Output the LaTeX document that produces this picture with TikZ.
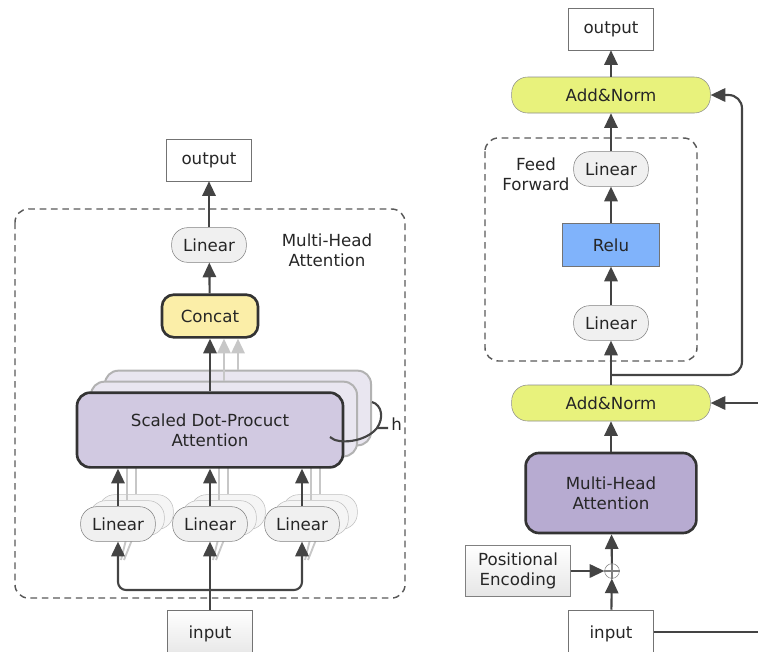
\documentclass[tikz,border=0pt]{standalone}
\usepackage{fontspec}
\setmainfont{DejaVu Sans}
\usetikzlibrary{arrows.meta}
\definecolor{arrowc}{HTML}{444444}
\definecolor{linfill}{HTML}{F0F0F0}
\definecolor{concatfill}{HTML}{FBEEA8}
\definecolor{sdpafill}{HTML}{D1C9E1}
\definecolor{shadefill}{HTML}{E9E6F0}
\definecolor{addfill}{HTML}{E8F27C}
\definecolor{relufill}{HTML}{80B3FB}
\definecolor{mhafill}{HTML}{B7ABD1}
\begin{document}
\begin{tikzpicture}[x=0.75pt,y=-0.75pt,
  every node/.style={font=\fontsize{12.5}{15}\selectfont, text=black!85},
  arr/.style={draw=arrowc, line width=1.6pt, -{Triangle[length=11pt,width=10pt]}},
  garr/.style={draw=black!22, line width=1.6pt, -{Triangle[length=11pt,width=10pt]}},
  plain/.style={draw=arrowc, line width=1.6pt},
  iobox/.style={draw=black!55, fill=white, minimum width=64pt, minimum height=31.5pt},
  linbox/.style={draw=black!50, fill=linfill, rounded corners=12pt, minimum width=56pt, minimum height=26pt},
  linshade/.style={draw=black!25, fill=black!4, rounded corners=12pt, minimum width=56pt, minimum height=26pt},
  dashbox/.style={draw=black!65, dash pattern=on 5pt off 3.5pt, line width=1.1pt, rounded corners=10pt}]
\useasboundingbox (0,0) rectangle (758,651);
% left: multi-head attention
\draw[dashbox] (15,209) rectangle (405,598);
\node (mhalabel) at (327,250) [align=center] {Multi-Head\\Attention};
\node (output)   at (209,160) [iobox] {output};
\node (linear)   at (209,245) [linbox] {Linear};
\node (concat)   at (210,316) [draw=black!80, line width=2pt, fill=concatfill, rounded corners=9pt,
                               minimum width=72pt, minimum height=32pt] {Concat};
%
\node (sdpa2)    at (238,408) [draw=black!30, line width=1.5pt, fill=shadefill, rounded corners=10pt,
                               minimum width=199.5pt, minimum height=56pt] {};
\node (sdpa1)    at (224,419) [draw=black!30, line width=1.5pt, fill=shadefill, rounded corners=10pt,
                               minimum width=199.5pt, minimum height=56pt] {};
\draw[garr] (sdpa2.north) -- (sdpa2.north |- concat.south);
\draw[garr] (sdpa1.north) -- (sdpa1.north |- concat.south);
%
\node (la2) at (136,512) [linshade] {};
\node (la1) at (127,518) [linshade] {};
\node (lb2) at (228,512) [linshade] {};
\node (lb1) at (219,518) [linshade] {};
\node (lc2) at (320,512) [linshade] {};
\node (lc1) at (311,518) [linshade] {};
\draw[draw=black!22, line width=1.4pt] (la1.north) -- ++(0,-60) (la2.north) -- ++(0,-55);
\draw[draw=black!22, line width=1.4pt] (lb1.north) -- ++(0,-60) (lb2.north) -- ++(0,-55);
\draw[draw=black!22, line width=1.4pt] (lc1.north) -- ++(0,-60) (lc2.north) -- ++(0,-55);
\draw[draw=black!22, line width=1.4pt] (121,560) -- (la1.south) (124,560) -- (la2.south);
\draw[draw=black!22, line width=1.4pt] (213,560) -- (lb1.south) (216,560) -- (lb2.south);
\draw[draw=black!22, line width=1.4pt] (305,560) -- (lc1.south) (308,560) -- (lc2.south);
%
\node (sdpa)     at (210,430) [draw=black!80, line width=2pt, fill=sdpafill, rounded corners=10pt,
                               minimum width=199.5pt, minimum height=56pt, align=center]
                               {Scaled Dot-Procuct\\Attention};
\node (la)       at (118,524) [linbox] {Linear};
\node (lb)       at (210,524) [linbox] {Linear};
\node (lc)       at (302,524) [linbox] {Linear};
\node (input)    at (210,634) [iobox, top color=white, bottom color=black!10, minimum height=36pt] {input};
\coordinate (fan) at (210,590);
%
\draw[plain] (330,437) .. controls (338,445) and (366,442) .. (377,428) -- (388,428);
\draw[plain] (377,428) .. controls (384,418) and (382,405) .. (372,402);
\node (h) at (391,424) [anchor=west, inner sep=0pt] {h};
%
\draw[arr] (input) -- (lb);
\draw[arr, rounded corners=6pt] (fan) -| (la);
\draw[arr, rounded corners=6pt] (fan) -| (lc);
\draw[arr] (la) -- (la |- sdpa.south);
\draw[arr] (lb) -- (lb |- sdpa.south);
\draw[arr] (lc) -- (lc |- sdpa.south);
\draw[arr] (sdpa) -- (concat);
\draw[arr] (concat) -- (linear);
\draw[arr] (linear) -- (output);
% right: encoder block
\draw[dashbox] (485,138) rectangle (697,361);
\node (fflabel)  at (536,174) [align=center] {Feed\\Forward};
\node (outR)     at (611,29)  [iobox] {output};
\node (addtop)   at (611,95)  [draw=black!45, fill=addfill, rounded corners=12pt,
                               minimum width=149pt, minimum height=27pt] {Add\&Norm};
\node (ffl2)     at (611,169) [linbox] {Linear};
\node (relu)     at (611,245) [draw=black!55, fill=relufill, minimum width=73pt, minimum height=32pt] {Relu};
\node (ffl1)     at (611,323) [linbox] {Linear};
\node (addbot)   at (611,403) [draw=black!45, fill=addfill, rounded corners=12pt,
                               minimum width=149pt, minimum height=27pt] {Add\&Norm};
\node (mha)      at (611,493) [draw=black!80, line width=2pt, fill=mhafill, rounded corners=10pt,
                               minimum width=128pt, minimum height=60pt, align=center] {Multi-Head\\Attention};
\node (plus)     at (612,571) [circle, draw=black!50, fill=white, minimum size=11pt, inner sep=0pt] {};
\draw[black!50, line width=0.8pt] (plus.north) -- (plus.south) (plus.west) -- (plus.east);
\node (posenc)   at (518,571) [draw=black!50, top color=white, bottom color=black!10,
                               minimum width=79pt, minimum height=38pt, align=center] {Positional\\Encoding};
\node (inR)      at (611,634) [iobox, minimum height=36pt] {input};
\coordinate (split)  at (611,375);
\coordinate (res)    at (742,375);
\coordinate (sideIn) at (760,403);
\coordinate (inEnd)  at (760,632);
%
\draw[arr] (inR) -- (plus);
\draw[arr] (posenc) -- (plus);
\draw[arr] (plus) -- (mha);
\draw[arr] (mha) -- (addbot);
\draw[arr] (sideIn) -- (addbot);
\draw[arr] (addbot) -- (ffl1);
\draw[arr, rounded corners=10pt] (split) -- (res) |- (addtop.east);
\draw[arr] (ffl1) -- (relu);
\draw[arr] (relu) -- (ffl2);
\draw[arr] (ffl2) -- (addtop);
\draw[arr] (addtop) -- (outR);
\draw[plain] (inR.east |- inEnd) -- (inEnd);
\end{tikzpicture}
\end{document}
